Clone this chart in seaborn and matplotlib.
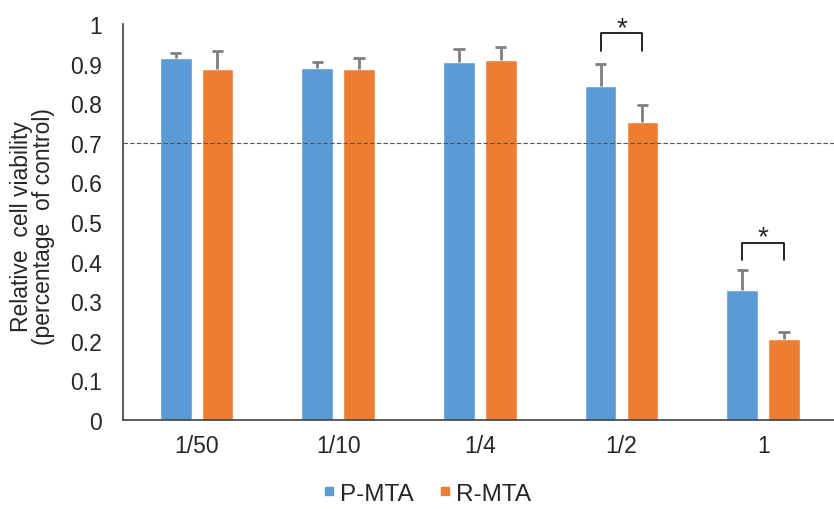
import pandas as pd
import seaborn as sns
import matplotlib.pyplot as plt
from matplotlib.lines import Line2D

# ----------------------
# Data
# ----------------------
doses = ["1/50", "1/10", "1/4", "1/2", "1"]
groups = ["P-MTA", "R-MTA"]
p_mta = [0.914, 0.890, 0.904, 0.843, 0.328]
r_mta = [0.886, 0.886, 0.909, 0.753, 0.205]
p_err = [0.013, 0.014, 0.032, 0.057, 0.051]
r_err = [0.046, 0.027, 0.033, 0.042, 0.018]
threshold = 0.7
# significance brackets: (category index, top y, leg y)
sig_pairs = [(3, 0.976, 0.932), (4, 0.448, 0.404)]

colors = {"P-MTA": "#5B9BD5", "R-MTA": "#ED7D31"}

df = pd.DataFrame({
    "dose": doses * 2,
    "group": ["P-MTA"] * len(doses) + ["R-MTA"] * len(doses),
    "value": p_mta + r_mta,
})

sns.set_style("white")
plt.rcParams["font.family"] = ["Liberation Sans", "DejaVu Sans"]

fig = plt.figure(figsize=(8.34, 5.10), dpi=100)
ax = fig.add_axes([0.1475, 0.1745, 0.8525, 0.7765])

sns.barplot(data=df, x="dose", y="value", hue="group", order=doses,
            hue_order=groups, palette=colors, width=0.59, gap=0.24,
            errorbar=None, legend=False, ax=ax, saturation=1)

# upward-only error bars (stem + top cap)
cap = 0.04
for cont, errs in zip(ax.containers, [p_err, r_err]):
    for bar, e in zip(cont, errs):
        xc = bar.get_x() + bar.get_width() / 2
        h = bar.get_height()
        ax.vlines(xc, h, h + e, color="#7f7f7f", lw=2, zorder=3)
        ax.hlines(h + e, xc - cap, xc + cap, color="#7f7f7f", lw=2, zorder=3)

# dashed threshold line
ax.axhline(threshold, color="#555555", lw=0.8, ls=(0, (4, 2)), zorder=4)

# significance brackets
for idx, top, leg in sig_pairs:
    b1, b2 = ax.containers[0][idx], ax.containers[1][idx]
    x1 = b1.get_x() + b1.get_width() / 2
    x2 = b2.get_x() + b2.get_width() / 2
    ax.plot([x1, x1, x2, x2], [leg, top, top, leg], color="black", lw=1.2,
            clip_on=False)
    ax.text((x1 + x2) / 2, top - 0.005, "*", ha="center", va="baseline",
            fontsize=20)

ax.set_ylim(0, 1)
ax.set_xlim(-0.519, 4.467)
ax.set_yticks([i / 10 for i in range(11)])
ax.set_yticklabels(["0"] + [f"0.{i}" for i in range(1, 10)] + ["1"])

# tick marks between categories, labels at centers
ax.set_xticks([i + 0.5 for i in range(-1, len(doses))], minor=False)
ax.set_xticklabels([""] * (len(doses) + 1))
ax.set_xticks(range(len(doses)), minor=True)
ax.set_xticklabels(doses, minor=True)
ax.tick_params(axis="x", which="major", direction="out", length=4,
               color="#404040", width=1)
ax.tick_params(axis="x", which="minor", length=0, labelsize=16.5, pad=10)
ax.tick_params(axis="y", direction="out", length=4, color="#404040",
               width=1, labelsize=16.5, pad=11)
ax.set_xlabel("")
ax.set_ylabel("Relative  cell viability\n(percentage  of control)",
              fontsize=16.5, linespacing=0.92)
ax.yaxis.set_label_coords(-0.096, 0.49)

for s in ["top", "right"]:
    ax.spines[s].set_visible(False)
for s in ["left", "bottom"]:
    ax.spines[s].set_color("#404040")
    ax.spines[s].set_linewidth(1.2)

handles = [Line2D([], [], marker="s", ls="", color=colors[g], markersize=6)
           for g in groups]
fig.legend(handles, groups, loc="center", bbox_to_anchor=(0.51, 0.03),
           ncol=2, frameon=False, fontsize=17.5, handletextpad=0.05,
           columnspacing=0.9, handlelength=0.8)

fig.savefig("out.png", dpi=100)
